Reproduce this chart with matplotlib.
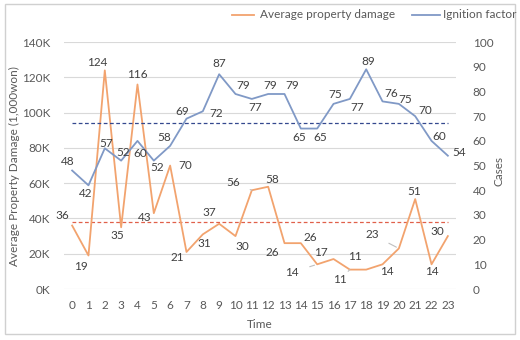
import matplotlib.pyplot as plt
from matplotlib.patches import Rectangle
import numpy as np

plt.rcParams["font.family"] = ["Lato", "DejaVu Sans"]

hours = list(range(24))
damage_k = [36, 19, 124, 35, 116, 43, 70, 21, 31, 37, 30, 56,
            58, 26, 26, 14, 17, 11, 11, 14, 23, 51, 14, 30]
ignition = [48, 42, 57, 52, 60, 52, 58, 69, 72, 87, 79, 77,
            79, 79, 65, 65, 75, 77, 89, 76, 75, 70, 60, 54]

# label offsets in pixels (dx, dy) and whether a leader line is drawn
DAMAGE_OFFS = [(-10, 10), (-8, -11), (-8, 8), (-4, -8), (0, 10), (-9, -4),
               (15, 0), (-9, -6), (1, -9), (-10, 11), (7, -10), (-19, 8),
               (4, 7), (-12, -9), (9, 6), (-25, -8), (-13, 7), (-10, -10),
               (-11, 13), (4, -7), (-27, 14), (-1, 8), (0, -7), (-11, 5)]
DAMAGE_LEADER = {11, 15, 17, 20}
IGN_OFFS = [(-4, 9), (-3, -8), (1, 5), (2, 8), (3, -13), (3, -7),
            (-6, 8), (-4, 7), (13, -2), (0, 11), (8, 8), (3, -9),
            (2, 8), (8, 8), (-2, -9), (3, -9), (2, 9), (7, -9),
            (2, 8), (9, 8), (6, 4), (10, 6), (8, 4), (11, 3)]

ORANGE = "#F2A36E"
BLUE = "#8099C6"
TEXT = "#595959"
LABEL = "#404040"

fig = plt.figure(figsize=(5.2, 3.4), dpi=100)
ax = fig.add_axes([0.123, 0.15, 0.754, 0.726])
ax2 = ax.twinx()

damage = np.array(damage_k) * 1000
ax.plot(hours, damage, color=ORANGE, lw=1.3, zorder=3)
ax.axhline(np.mean(damage), xmin=0.02, xmax=0.98, color="#E0604A",
           lw=0.9, ls=(0, (3, 2)), zorder=2)
ax2.plot(hours, ignition, color=BLUE, lw=1.3, zorder=3)
ax2.axhline(np.mean(ignition), xmin=0.02, xmax=0.98, color="#34488F",
            lw=0.9, ls=(0, (3, 2)), zorder=2)

for i, (x, v) in enumerate(zip(hours, damage_k)):
    dx, dy = DAMAGE_OFFS[i]
    arrow = dict(arrowstyle="-", color="#BFBFBF", lw=0.8, shrinkA=6, shrinkB=2) \
        if i in DAMAGE_LEADER else None
    ax.annotate(str(v), (x, v * 1000), xytext=(dx, dy), textcoords="offset pixels",
                ha="center", va="center", fontsize=8.5, color=LABEL,
                arrowprops=arrow, zorder=5)
for i, (x, v) in enumerate(zip(hours, ignition)):
    dx, dy = IGN_OFFS[i]
    ax2.annotate(str(v), (x, v), xytext=(dx, dy), textcoords="offset pixels",
                 ha="center", va="center", fontsize=8.5, color=LABEL, zorder=5)

ax.set_xlim(-0.5, 23.5)
ax.set_ylim(0, 140000)
ax2.set_ylim(0, 100)
ax.set_xticks(hours)
ax.set_yticks(np.arange(0, 140001, 20000))
ax.set_yticklabels([f"{v // 1000}K" for v in range(0, 140001, 20000)])
ax2.set_yticks(np.arange(0, 101, 10))
ax.grid(axis="y", color="#D9D9D9", lw=0.8)
ax.set_axisbelow(True)
for a in (ax, ax2):
    for s in a.spines.values():
        s.set_visible(False)
    a.tick_params(length=0, labelsize=8.5, colors=TEXT)
ax.tick_params(axis="y", pad=10)
ax2.tick_params(axis="y", pad=12)
ax.tick_params(axis="x", pad=8)

ax.set_xlabel("Time", fontsize=8.5, color=TEXT, labelpad=6)
ax.set_ylabel("Average Property Damage (1,000won)", fontsize=8.5, color=TEXT)
ax.yaxis.set_label_coords(-0.113, 0.5)
ax2.set_ylabel("Cases", fontsize=8.5, color=TEXT)
ax2.yaxis.set_label_coords(1.095, 0.48)

# legend along the top
fig.lines.append(plt.Line2D([232 / 520, 254 / 520], [1 - 15 / 340] * 2,
                            transform=fig.transFigure, color=ORANGE, lw=1.3))
fig.text(260 / 520, 1 - 15 / 340, "Average property damage", fontsize=8.5,
         color=TEXT, va="center")
fig.lines.append(plt.Line2D([412 / 520, 440 / 520], [1 - 15 / 340] * 2,
                            transform=fig.transFigure, color=BLUE, lw=1.3))
fig.text(443 / 520, 1 - 15 / 340, "Ignition factor", fontsize=8.5,
         color=TEXT, va="center")

fig.patches.append(Rectangle((5 / 520, 6 / 340), 510 / 520, 330 / 340,
                             transform=fig.transFigure, fill=False,
                             edgecolor="#D0D0D0", lw=1.0))

fig.savefig("out.png", dpi=100)
